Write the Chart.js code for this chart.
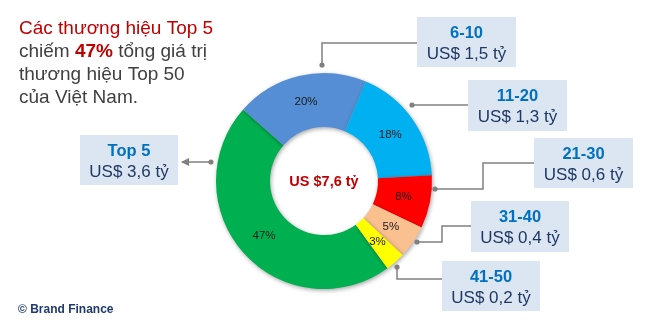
<!DOCTYPE html>
<html>
<head>
<meta charset="utf-8">
<script src="https://cdn.jsdelivr.net/npm/chart.js@4.4.1/dist/chart.umd.min.js"></script>
<style>
html,body{margin:0;padding:0;background:#fff;}
#wrap{position:relative;width:654px;height:321px;}
canvas{display:block;}
</style>
</head>
<body>
<div id="wrap"><canvas id="c" width="654" height="321"></canvas></div>
<script>
// ---- data ----
const categories = ['Top 5', '6-10', '11-20', '21-30', '31-40', '41-50'];
const shares = [47, 20, 18, 8, 5, 3];               // % shown on slices
const shareLabels = ['47%', '20%', '18%', '8%', '5%', '3%'];
const valueLabels = ['US$ 3,6 tỷ', 'US$ 1,5 tỷ', 'US$ 1,3 tỷ', 'US$ 0,6 tỷ', 'US$ 0,4 tỷ', 'US$ 0,2 tỷ'];
const totalLabel = 'US $7,6 tỷ';
const colors = ['#00B050', '#558ED5', '#00B0F0', '#FF0000', '#FAC090', '#FFFF00'];

// callout layout (annotation geometry)
const callouts = [
  {box:[80,135,98,50], path:[[211,162],[182,162]], arrow:true},
  {box:[417,17,99,50], path:[[322,65],[322,43],[417,43]]},
  {box:[468,80,99,51], path:[[412,105],[468,105]]},
  {box:[534,138,99,50], path:[[435,189],[483,189],[483,163],[534,163]]},
  {box:[471,201,98,51], path:[[417,242],[442,242],[442,226],[471,226]]},
  {box:[442,261,98,50], path:[[397,267],[397,279],[442,279]]}
];

const shadowPlugin = {
  id:'shadow',
  beforeDatasetsDraw(chart){
    const ctx = chart.ctx; ctx.save();
    ctx.shadowColor='rgba(0,0,0,0.35)'; ctx.shadowBlur=4; ctx.shadowOffsetX=1; ctx.shadowOffsetY=1.5;
  },
  afterDatasetsDraw(chart){ chart.ctx.restore(); }
};

const decorPlugin = {
  id:'decor',
  afterDraw(chart){
    const ctx = chart.ctx;
    const meta = chart.getDatasetMeta(0);
    ctx.save();
    // slice labels
    ctx.fillStyle = '#1a1a1a';
    ctx.font = '11.5px "Liberation Sans", Arial, sans-serif';
    ctx.textAlign='center'; ctx.textBaseline='middle';
    meta.data.forEach((arc,i)=>{
      const p = arc.getCenterPoint();
      ctx.fillText(shareLabels[i], p.x, p.y);
    });
    // center text
    const a0 = meta.data[0];
    ctx.fillStyle='#C00000';
    ctx.font='bold 14.5px "Liberation Sans", Arial, sans-serif';
    ctx.fillText(totalLabel, a0.x, a0.y + 1);

    // callouts
    callouts.forEach((c,i)=>{
      const [bx,by,bw,bh] = c.box;
      ctx.fillStyle='#DCE6F2';
      ctx.fillRect(bx,by,bw,bh);
      ctx.textAlign='center'; ctx.textBaseline='alphabetic';
      ctx.fillStyle='#0070C0';
      ctx.font='bold 16.5px "Liberation Sans", Arial, sans-serif';
      ctx.fillText(categories[i], bx+bw/2, by+21);
      ctx.fillStyle='#1F3864';
      ctx.font='17px "Liberation Sans", Arial, sans-serif';
      ctx.fillText(valueLabels[i], bx+bw/2, by+42);
      // connector
      ctx.strokeStyle='#808080'; ctx.lineWidth=1.5;
      ctx.beginPath();
      c.path.forEach((pt,k)=>{ if(k===0) ctx.moveTo(pt[0],pt[1]); else ctx.lineTo(pt[0],pt[1]); });
      ctx.stroke();
      ctx.fillStyle='#808080';
      ctx.beginPath(); ctx.arc(c.path[0][0], c.path[0][1], 2.6, 0, Math.PI*2); ctx.fill();
      if(c.arrow){
        const e = c.path[c.path.length-1];
        ctx.beginPath();
        ctx.moveTo(e[0]-1, e[1]);
        ctx.lineTo(e[0]+7, e[1]-4);
        ctx.lineTo(e[0]+7, e[1]+4);
        ctx.closePath(); ctx.fill();
      }
    });

    // title
    ctx.textAlign='left'; ctx.textBaseline='alphabetic';
    const f = '19px "Liberation Sans", Arial, sans-serif';
    const fb = 'bold 19px "Liberation Sans", Arial, sans-serif';
    ctx.font=f; ctx.fillStyle='#C00000';
    ctx.fillText('Các thương hiệu Top 5', 19, 34);
    ctx.fillStyle='#404040';
    let x = 19;
    ctx.fillText('chiếm ', x, 57); x += ctx.measureText('chiếm ').width;
    ctx.font=fb; ctx.fillStyle='#C00000';
    ctx.fillText('47%', x, 57); x += ctx.measureText('47%').width;
    ctx.font=f; ctx.fillStyle='#404040';
    ctx.fillText(' tổng giá trị', x, 57);
    ctx.fillText('thương hiệu Top 50', 19, 80);
    ctx.fillText('của Việt Nam.', 19, 103);

    // source
    ctx.font='bold 12px "Liberation Sans", Arial, sans-serif';
    ctx.fillStyle='#1F3A6E';
    ctx.fillText('© Brand Finance', 18, 313);
    ctx.restore();
  }
};

new Chart(document.getElementById('c'), {
  type:'doughnut',
  data:{
    labels: categories,
    datasets:[{ data: shares, backgroundColor: colors, borderWidth:0, hoverOffset:0 }]
  },
  options:{
    responsive:false,
    animation:false,
    rotation:144,
    cutout:'50%',
    layout:{padding:{left:216, right:222, top:73, bottom:32}},
    plugins:{legend:{display:false}, tooltip:{enabled:false}}
  },
  plugins:[shadowPlugin, decorPlugin]
});
</script>
</body>
</html>
